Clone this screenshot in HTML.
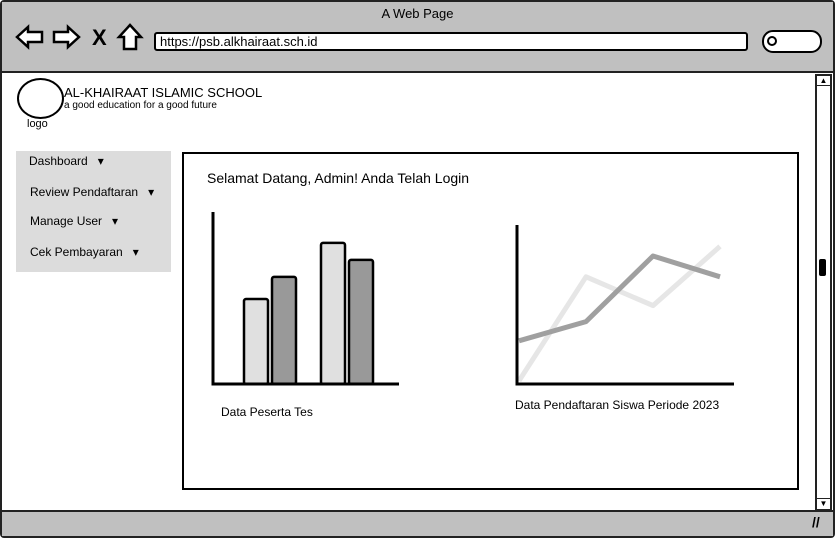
<!DOCTYPE html>
<html><head><meta charset="utf-8"><style>
*{box-sizing:border-box;margin:0;padding:0}
body{width:835px;height:538px;overflow:hidden;background:#fff;font-family:"Liberation Sans",sans-serif;position:relative;color:#000}
.abs{position:absolute}
</style></head><body>
<div class="abs" style="left:0;top:0;width:835px;height:538px;border:2px solid #222;border-radius:4px"></div>
<div class="abs" style="left:2px;top:2px;width:831px;height:71px;background:#c0c0c0;border-bottom:2px solid #222"></div>
<div class="abs" style="left:0;top:6px;width:835px;text-align:center;font-size:13px">A Web Page</div>
<svg class="abs" style="left:0;top:0" width="835" height="80">
<g fill="#fff" stroke="#000" stroke-width="2.5"><polygon points="17,37 28,27 28,32 42,32 42,42 28,42 28,47"/></g>
<g fill="#fff" stroke="#000" stroke-width="2.5"><polygon points="79,37 68,27 68,32 54,32 54,42 68,42 68,47"/></g>
<text x="92" y="45" font-size="22" font-weight="bold" font-family="Liberation Sans">X</text>
<g fill="#fff" stroke="#000" stroke-width="2.5"><polygon points="130,25 141,37 136,37 136,49 124,49 124,37 119,37"/></g>
<rect x="155" y="33" width="592" height="17" rx="2" fill="#fff" stroke="#000" stroke-width="2"/>
<text x="160" y="46" font-size="13" font-family="Liberation Sans">https://psb.alkhairaat.sch.id</text>
<rect x="763" y="31" width="58" height="21" rx="10" fill="#fff" stroke="#000" stroke-width="2"/>
<circle cx="772" cy="41" r="4" fill="none" stroke="#000" stroke-width="2"/>
</svg>
<div class="abs" style="left:815px;top:74px;width:17px;height:437px;border:2px solid #222;background:#fff"></div>
<div class="abs" style="left:817px;top:76px;width:13px;height:10px;border-bottom:1.5px solid #222;font-size:8px;text-align:center">▲</div>
<div class="abs" style="left:817px;top:498px;width:13px;height:11px;border-top:1.5px solid #222;font-size:8px;text-align:center">▼</div>
<div class="abs" style="left:819px;top:259px;width:7px;height:17px;background:#000;border-radius:2px"></div>
<div class="abs" style="left:2px;top:510px;width:831px;height:26px;background:#c0c0c0;border-top:2px solid #222"></div>
<div class="abs" style="left:812px;top:514px;font-size:14px;font-weight:bold">//</div>

<div class="abs" style="left:17px;top:78px;width:47px;height:41px;border:2px solid #000;border-radius:50%"></div>
<div class="abs" style="left:27px;top:118px;font-size:11px">logo</div>
<div class="abs" style="left:64px;top:85px;font-size:13px">AL-KHAIRAAT ISLAMIC SCHOOL</div>
<div class="abs" style="left:64px;top:100px;font-size:10px">a good education for a good future</div>

<div class="abs" style="left:16px;top:151px;width:155px;height:121px;background:#dcdcdc"></div>
<div class="abs" style="left:29px;top:154px;font-size:12px">Dashboard &nbsp;&nbsp;▾</div>
<div class="abs" style="left:30px;top:185px;font-size:12px">Review Pendaftaran &nbsp;&nbsp;▾</div>
<div class="abs" style="left:30px;top:214px;font-size:12px">Manage User &nbsp;&nbsp;▾</div>
<div class="abs" style="left:30px;top:245px;font-size:12px">Cek Pembayaran &nbsp;&nbsp;▾</div>

<div class="abs" style="left:182px;top:152px;width:617px;height:338px;border:2px solid #000"></div>
<div class="abs" style="left:207px;top:170px;font-size:14px">Selamat Datang, Admin! Anda Telah Login</div>
<div class="abs" style="left:221px;top:405px;font-size:12px">Data Peserta Tes</div>
<div class="abs" style="left:515px;top:398px;font-size:12px">Data Pendaftaran Siswa Periode 2023</div>

<svg id="charts" class="abs" style="left:0;top:0" width="835" height="538"></svg>
<script>
const barCategories = ['A1','A2','B1','B2'];
const barValues = [50, 63, 83, 73];
const barFills = ['#e0e0e0','#999999','#e0e0e0','#999999'];
const lineCategories = ['P1','P2','P3','P4'];
const seriesDark = [27, 39, 80, 67];
const seriesLight = [2, 67, 49, 86];

const NS = 'http://www.w3.org/2000/svg';
const svg = document.getElementById('charts');
function mk(tag, attrs){const e=document.createElementNS(NS,tag);for(const k in attrs)e.setAttribute(k,attrs[k]);svg.appendChild(e);return e;}

// bar chart
const bBase = 384, bScale = 1.7;
const barX = i => 244 + Math.floor(i/2)*77 + (i%2)*28;
const barY = v => bBase - v*bScale;
barValues.forEach((v,i)=>{
  const r = mk('rect',{x:barX(i),y:barY(v),width:24,height:bBase-barY(v),rx:2,fill:barFills[i],stroke:'#000','stroke-width':2.5});
  
  
});
let a = mk('path',{d:'M213 212 L213 384 L399 384',fill:'none',stroke:'#000','stroke-width':3});



// line chart
const lBase = 384, lScale = 1.6;
const lx = i => 519 + i*67;
const ly = v => lBase - v*lScale;
function line(data, color, name){
  const p = mk('polyline',{points:data.map((v,i)=>lx(i)+','+ly(v)).join(' '),fill:'none',stroke:color,'stroke-width':5,'stroke-linejoin':'round'});
  
  
}
line(seriesLight,'#e6e6e6','line-series-light');
line(seriesDark,'#a0a0a0','line-series-dark');
a = mk('path',{d:'M517 225 L517 384 L734 384',fill:'none',stroke:'#000','stroke-width':3});


</script>
</body></html>
